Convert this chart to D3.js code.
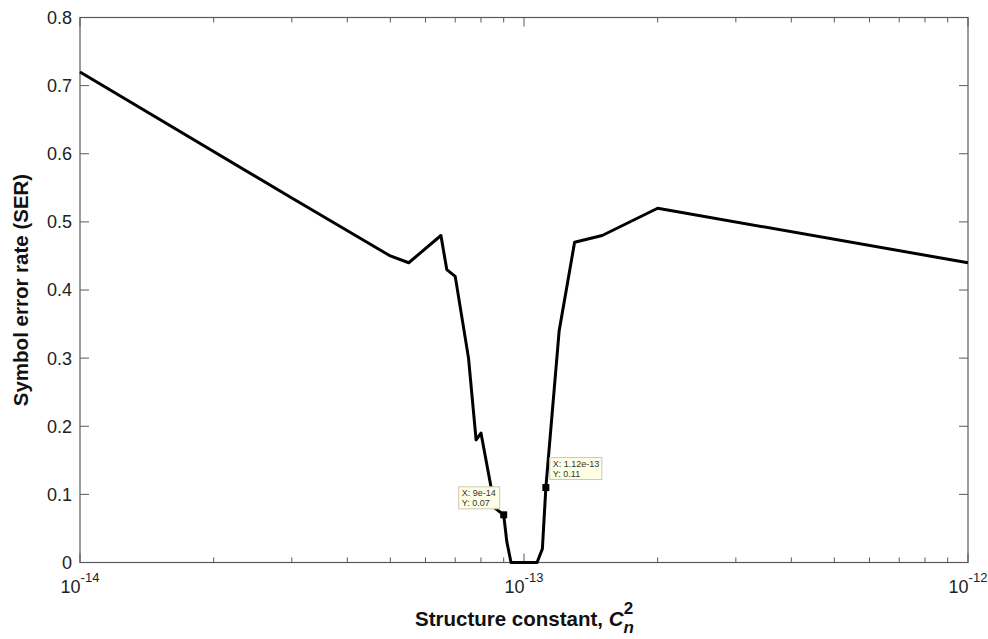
<!DOCTYPE html>
<html>
<head>
<meta charset="utf-8">
<script src="https://cdn.jsdelivr.net/npm/d3@7"></script>
<style>
  html, body { margin: 0; padding: 0; background: #fff; }
  svg { display: block; font-family: Arial, "Liberation Sans", sans-serif; }
</style>
</head>
<body>
<svg id="chart" width="988" height="639"></svg>
<script>
// Structure constant Cn^2 (x) against symbol error rate (y)
const cn2 = [1e-14, 3e-14, 5e-14, 5.5e-14, 6.5e-14, 6.7e-14, 7e-14, 7.5e-14, 7.8e-14, 8e-14,
             8.6e-14, 9e-14, 9.15e-14, 9.35e-14, 1.07e-13, 1.1e-13, 1.12e-13, 1.2e-13, 1.3e-13,
             1.5e-13, 2e-13, 1e-12];
const ser = [0.72, 0.535, 0.45, 0.44, 0.48, 0.43, 0.42, 0.30, 0.18, 0.19,
             0.08, 0.07, 0.03, 0, 0, 0.02, 0.11, 0.34, 0.47,
             0.48, 0.52, 0.44];
const yTicks = [0, 0.1, 0.2, 0.3, 0.4, 0.5, 0.6, 0.7, 0.8];
const xDecades = [-14, -13, -12];
// data tips: [x, y]
const tips = [[9e-14, 0.07], [1.12e-13, 0.11]];

const svg = d3.select("#chart");
const L = 80, R = 968, T = 17.5, B = 562.5;
const x = d3.scaleLog().domain([1e-14, 1e-12]).range([L, R]);
const y = d3.scaleLinear().domain([0, 0.8]).range([B, T]);
const axisCol = "#5a5a5a";

// ticks (inward, on all four sides)
const g = svg.append("g");
const majorLen = 9, minorLen = 5;
yTicks.forEach(v => {
  g.append("line").attr("x1", L).attr("x2", L + majorLen).attr("y1", y(v)).attr("y2", y(v))
    .attr("stroke", axisCol).attr("stroke-width", 1);
  g.append("line").attr("x1", R).attr("x2", R - majorLen).attr("y1", y(v)).attr("y2", y(v))
    .attr("stroke", axisCol).attr("stroke-width", 1);
  g.append("text").attr("x", 72).attr("y", y(v)).attr("dy", "0.36em")
    .attr("text-anchor", "end").attr("font-size", 18).attr("fill", "#222")
    .text(d3.format("")(v));
});
const minor = [];
[-14, -13].forEach(e => { for (let m = 2; m <= 9; m++) minor.push(m * Math.pow(10, e)); });
minor.forEach(v => {
  g.append("line").attr("x1", x(v)).attr("x2", x(v)).attr("y1", B).attr("y2", B - minorLen)
    .attr("stroke", axisCol).attr("stroke-width", 1);
  g.append("line").attr("x1", x(v)).attr("x2", x(v)).attr("y1", T).attr("y2", T + minorLen)
    .attr("stroke", axisCol).attr("stroke-width", 1);
});
xDecades.forEach(e => {
  const v = Math.pow(10, e);
  g.append("line").attr("x1", x(v)).attr("x2", x(v)).attr("y1", B).attr("y2", B - majorLen)
    .attr("stroke", axisCol).attr("stroke-width", 1);
  g.append("line").attr("x1", x(v)).attr("x2", x(v)).attr("y1", T).attr("y2", T + majorLen)
    .attr("stroke", axisCol).attr("stroke-width", 1);
  const t = g.append("text").attr("x", x(v)).attr("y", 593)
    .attr("text-anchor", "middle").attr("font-size", 18).attr("fill", "#222");
  t.append("tspan").text("10");
  t.append("tspan").attr("dy", -11).attr("font-size", 13).text(String(e));
});

// axes box
svg.append("rect").attr("x", L).attr("y", T).attr("width", R - L).attr("height", B - T)
  .attr("fill", "none").attr("stroke", axisCol).attr("stroke-width", 1.2);

// data line
const data = cn2.map((c, i) => [c, ser[i]]);
svg.append("path").datum(data)
  .attr("fill", "none").attr("stroke", "#000").attr("stroke-width", 3)
  .attr("stroke-linejoin", "round")
  .attr("d", d3.line().x(d => x(d[0])).y(d => y(d[1])));

// data tips
const fmtX = v => {
  const e = Math.floor(Math.log10(v));
  const m = +(v / Math.pow(10, e)).toFixed(2);
  return `${m}e${e}`;
};
const tipBoxes = [
  { dx: -45, dy: -28, w: 41, h: 22 },
  { dx: 4, dy: -30, w: 52, h: 22 }
];
tips.forEach((tp, i) => {
  const px = x(tp[0]), py = y(tp[1]);
  const b = tipBoxes[i];
  const gt = svg.append("g");
  gt.append("rect").attr("x", px + b.dx).attr("y", py + b.dy).attr("width", b.w).attr("height", b.h)
    .attr("fill", "#ffffe6").attr("stroke", "#c8c8b4").attr("stroke-width", 1);
  gt.append("text").attr("x", px + b.dx + 3).attr("y", py + b.dy + 9)
    .attr("font-size", 9).attr("fill", "#333").text("X: " + fmtX(tp[0]));
  gt.append("text").attr("x", px + b.dx + 3).attr("y", py + b.dy + 19)
    .attr("font-size", 9).attr("fill", "#333").text("Y: " + tp[1]);
  gt.append("rect").attr("x", px - 3.5).attr("y", py - 3.5).attr("width", 7).attr("height", 7)
    .attr("fill", "#000");
});

// axis titles
svg.append("text").attr("transform", `translate(28,${(T + B) / 2}) rotate(-90)`)
  .attr("text-anchor", "middle").attr("font-size", 20.5).attr("font-weight", "bold").attr("fill", "#111")
  .text("Symbol error rate (SER)");
const xt = svg.append("text").attr("x", 415).attr("y", 626)
  .attr("text-anchor", "start").attr("font-size", 20.5).attr("font-weight", "bold").attr("fill", "#111");
xt.append("tspan").text("Structure constant, ");
xt.append("tspan").attr("font-style", "italic").text("C");
xt.append("tspan").attr("dy", 7).attr("font-size", 17).attr("font-style", "italic").text("n");
xt.append("tspan").attr("dx", -10).attr("dy", -19).attr("font-size", 17).text("2");
</script>
</body>
</html>
